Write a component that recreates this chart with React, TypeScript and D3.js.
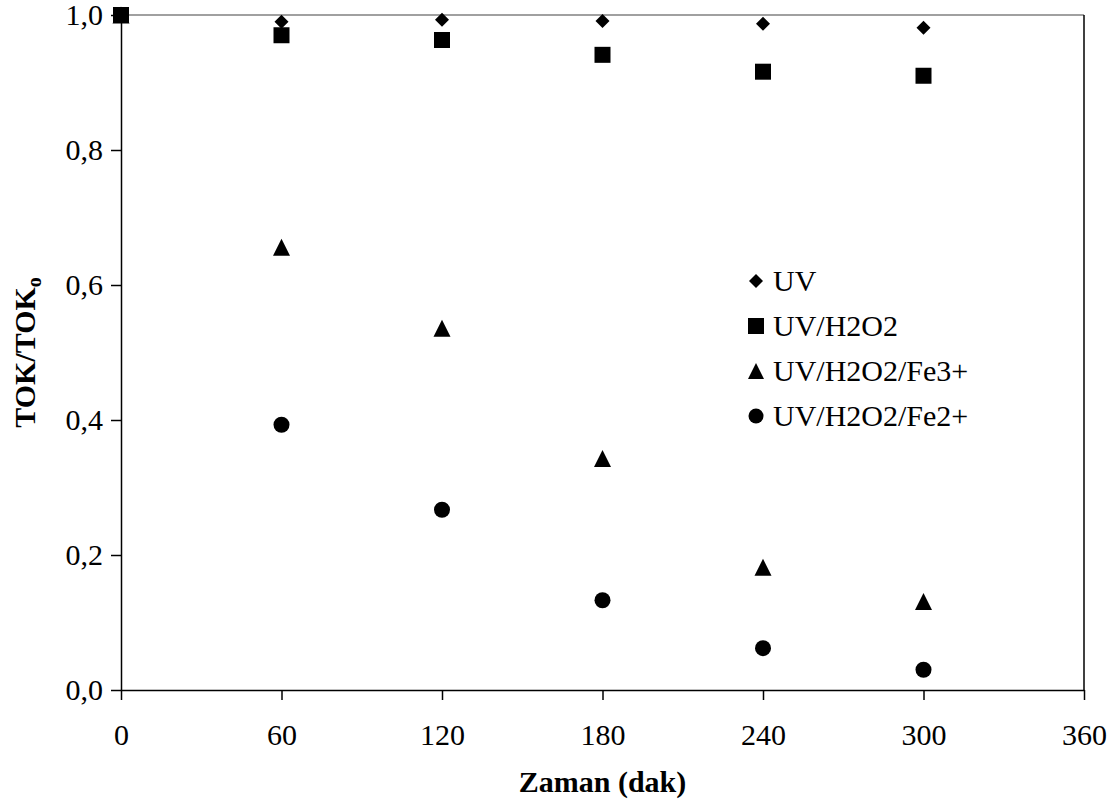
import { useEffect, useRef } from "react";
import * as d3 from "d3";

const times = [0, 60, 120, 180, 240, 300];
const uv = [1.0, 0.99, 0.993, 0.991, 0.987, 0.981];
const uvH2O2 = [1.0, 0.97, 0.963, 0.941, 0.916, 0.91];
const uvFe3 = [1.0, 0.656, 0.536, 0.343, 0.182, 0.131];
const uvFe2 = [1.0, 0.393, 0.267, 0.133, 0.062, 0.03];
const seriesNames = ["UV", "UV/H2O2", "UV/H2O2/Fe3+", "UV/H2O2/Fe2+"];
const xTicks = [0, 60, 120, 180, 240, 300, 360];
const yTicks = [0, 0.2, 0.4, 0.6, 0.8, 1.0];

const shapes = ["diamond", "square", "triangle", "circle"];

function markerPath(shape: string, s: number) {
  if (shape === "diamond") return `M0,${-s}L${s},0L0,${s}L${-s},0Z`;
  if (shape === "square") return `M${-s},${-s}H${s}V${s}H${-s}Z`;
  if (shape === "triangle") return `M0,${-s}L${s},${s}H${-s}Z`;
  return d3.symbol(d3.symbolCircle, Math.PI * s * s)() as string;
}

const App = () => {
  const svgRef = useRef<SVGSVGElement>(null);

  useEffect(() => {
    const width = 1115, height = 809;
    const margin = { left: 121, right: 31, top: 15, bottom: 119 };
    const font = "'Liberation Serif', 'Times New Roman', serif";
    const fs = 30;

    const svg = d3.select(svgRef.current);
    svg.selectAll("*").remove();
    svg.attr("width", width).attr("height", height);

    const x = d3.scaleLinear().domain([0, 360]).range([margin.left, width - margin.right]);
    const y = d3.scaleLinear().domain([0, 1]).range([height - margin.bottom, margin.top]);

    svg.append("rect").attr("width", width).attr("height", height).attr("fill", "white");

    // plot border
    svg.append("line")
      .attr("x1", x(0)).attr("x2", x(360)).attr("y1", y(1)).attr("y2", y(1))
      .attr("stroke", "#808080").attr("stroke-width", 1.5);
    svg.append("line")
      .attr("x1", x(360)).attr("x2", x(360)).attr("y1", y(1)).attr("y2", y(0))
      .attr("stroke", "black").attr("stroke-width", 1.5);

    const xAxis = svg.append("g")
      .attr("transform", `translate(0,${y(0)})`)
      .call(d3.axisBottom(x).tickValues(xTicks).tickSize(10).tickPadding(24).tickSizeOuter(0));
    const yAxis = svg.append("g")
      .attr("transform", `translate(${x(0)},0)`)
      .call(d3.axisLeft(y).tickValues(yTicks).tickSize(10).tickPadding(8).tickSizeOuter(0)
        .tickFormat(d => d3.format(".1f")(d as number).replace(".", ",")));

    [xAxis, yAxis].forEach(ax => {
      ax.selectAll("path, line").attr("stroke", "black").attr("stroke-width", 1.5);
      ax.selectAll("text").attr("font-family", font).attr("font-size", fs).attr("fill", "black");
    });

    const data = [uv, uvH2O2, uvFe3, uvFe2];
    const sizes = [7, 8, 8.5, 8];
    // square goes last so it sits on top at t=0
    [3, 2, 0, 1].forEach(i => {
      svg.append("g").selectAll("path")
        .data(times.map((t, j) => ({ t, v: data[i][j] })))
        .enter()
        .append("path")
        .attr("d", markerPath(shapes[i], sizes[i]))
        .attr("transform", d => `translate(${x(d.t)},${y(d.v)})`)
        .attr("fill", "black");
    });

    // legend
    const legend = svg.append("g");
    const legendSizes = [7, 8, 8, 7.5];
    seriesNames.forEach((name, i) => {
      const ly = 281 + i * 45;
      legend.append("path")
        .attr("d", markerPath(shapes[i], legendSizes[i]))
        .attr("transform", `translate(756,${ly})`)
        .attr("fill", "black");
      legend.append("text")
        .attr("x", 773).attr("y", ly + 10)
        .attr("font-family", font).attr("font-size", fs)
        .text(name);
    });

    // axis titles
    svg.append("text")
      .attr("x", (x(0) + x(360)) / 2).attr("y", 792)
      .attr("text-anchor", "middle")
      .attr("font-family", font).attr("font-size", fs).attr("font-weight", "bold")
      .text("Zaman (dak)");

    const yt = svg.append("text")
      .attr("transform", `translate(35,${(y(0) + y(1)) / 2}) rotate(-90)`)
      .attr("text-anchor", "middle")
      .attr("font-family", font).attr("font-size", fs).attr("font-weight", "bold");
    yt.append("tspan").text("TOK/TOK");
    yt.append("tspan").attr("font-size", 20).attr("dy", 6).text("o");
  }, []);

  return <svg ref={svgRef} style={{ display: "block", position: "absolute", left: 0, top: 0 }} />;
};

export default App;
